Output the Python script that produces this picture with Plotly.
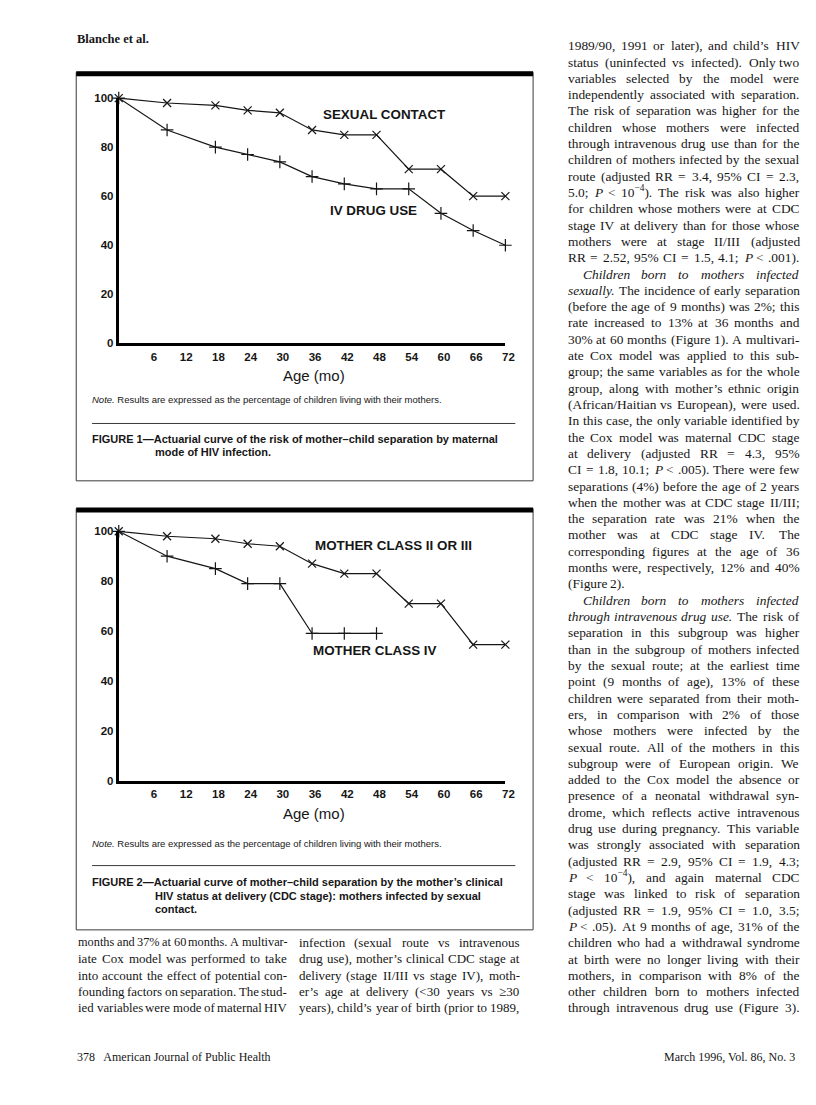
import re
import plotly.graph_objects as go

# page size, and the 8px body margin the saved html page adds round the figure
PAGE_W, PAGE_H = 816, 1105
OFF = 8
W, H = PAGE_W - OFF, PAGE_H - OFF

# ---- data ----
FIG1_MONTHS = [0, 9, 18, 24, 30, 36, 42, 48, 54, 60, 66, 72]
FIG1_SEXUAL = [100, 98, 97, 95, 94, 87, 85, 85, 71, 71, 60, 60]
FIG1_IVDRUG = [100, 87, 80, 77, 74, 68, 65, 63, 63, 53, 46, 40]

FIG2_MONTHS_23 = [0, 9, 18, 24, 30, 36, 42, 48, 54, 60, 66, 72]
FIG2_CLASS_23 = [100, 98, 97, 95, 94, 87, 83, 83, 71, 71, 54.5, 54.5]
FIG2_MONTHS_4 = [0, 9, 18, 24, 30, 36, 42, 48]
FIG2_CLASS_4 = [100, 90, 85, 79, 79, 59, 59, 59]

AGE_TICKS = [6, 12, 18, 24, 30, 36, 42, 48, 54, 60, 66, 72]
PCT_TICKS = [0, 20, 40, 60, 80, 100]

NOTE = "<i>Note.</i> Results are expressed as the percentage of children living with their mothers."
CAPTION1 = ["FIGURE 1—Actuarial curve of the risk of mother–child separation by maternal",
            "mode of HIV infection."]
CAPTION2 = ["FIGURE 2—Actuarial curve of mother–child separation by the mother’s clinical",
            "HIV status at delivery (CDC stage): mothers infected by sexual",
            "contact."]

RIGHT_COL = [
    "1989/90, 1991 or later), and child’s HIV",
    "status (uninfected vs infected). Only two",
    "variables selected by the model were",
    "independently associated with separation.",
    "The risk of separation was higher for the",
    "children whose mothers were infected",
    "through intravenous drug use than for the",
    "children of mothers infected by the sexual",
    "route (adjusted RR = 3.4, 95% CI = 2.3,",
    "5.0; <i>P</i> &lt; 10<sup>−4</sup>). The risk was also higher",
    "for children whose mothers were at CDC",
    "stage IV at delivery than for those whose",
    "mothers were at stage II/III (adjusted",
    "RR = 2.52, 95% CI = 1.5, 4.1; <i>P</i> &lt; .001).",
    "<i>Children born to mothers infected</i>",
    "<i>sexually.</i> The incidence of early separation",
    "(before the age of 9 months) was 2%; this",
    "rate increased to 13% at 36 months and",
    "30% at 60 months (Figure 1). A multivari-",
    "ate Cox model was applied to this sub-",
    "group; the same variables as for the whole",
    "group, along with mother’s ethnic origin",
    "(African/Haitian vs European), were used.",
    "In this case, the only variable identified by",
    "the Cox model was maternal CDC stage",
    "at delivery (adjusted RR = 4.3, 95%",
    "CI = 1.8, 10.1; <i>P</i> &lt; .005). There were few",
    "separations (4%) before the age of 2 years",
    "when the mother was at CDC stage II/III;",
    "the separation rate was 21% when the",
    "mother was at CDC stage IV. The",
    "corresponding figures at the age of 36",
    "months were, respectively, 12% and 40%",
    "(Figure 2).",
    "<i>Children born to mothers infected</i>",
    "<i>through intravenous drug use.</i> The risk of",
    "separation in this subgroup was higher",
    "than in the subgroup of mothers infected",
    "by the sexual route; at the earliest time",
    "point (9 months of age), 13% of these",
    "children were separated from their moth-",
    "ers, in comparison with 2% of those",
    "whose mothers were infected by the",
    "sexual route. All of the mothers in this",
    "subgroup were of European origin. We",
    "added to the Cox model the absence or",
    "presence of a neonatal withdrawal syn-",
    "drome, which reflects active intravenous",
    "drug use during pregnancy. This variable",
    "was strongly associated with separation",
    "(adjusted RR = 2.9, 95% CI = 1.9, 4.3;",
    "<i>P</i> &lt; 10<sup>−4</sup>), and again maternal CDC",
    "stage was linked to risk of separation",
    "(adjusted RR = 1.9, 95% CI = 1.0, 3.5;",
    "<i>P</i> &lt; .05). At 9 months of age, 31% of the",
    "children who had a withdrawal syndrome",
    "at birth were no longer living with their",
    "mothers, in comparison with 8% of the",
    "other children born to mothers infected",
    "through intravenous drug use (Figure 3).",
]
RIGHT_INDENT = {14, 34}
RIGHT_RAGGED = {33}

LEFT_COL = [
    "months and 37% at 60 months. A multivar-",
    "iate Cox model was performed to take",
    "into account the effect of potential con-",
    "founding factors on separation. The stud-",
    "ied variables were mode of maternal HIV",
]
MID_COL = [
    "infection (sexual route vs intravenous",
    "drug use), mother’s clinical CDC stage at",
    "delivery (stage II/III vs stage IV), moth-",
    "er’s age at delivery (&lt;30 years vs ≥30",
    "years), child’s year of birth (prior to 1989,",
]

# ---- styles ----
INK = '#161616'
SANS = 'Liberation Sans, Arial, sans-serif'
SERIF = 'Liberation Serif, Times New Roman, serif'
LINE0, PITCH = 40, 16.49

# Times-Roman advance widths (1/1000 em), used to spread justified words
_TW = {' ': 250, ',': 250, '.': 250, ';': 278, ':': 278, '(': 333, ')': 333, '-': 333,
       '/': 278, '%': 833, '=': 564, '<': 564, '’': 333, '−': 564, '≥': 549,
       'A': 722, 'C': 667, 'D': 722, 'E': 611, 'F': 556, 'H': 722, 'I': 333, 'P': 556,
       'R': 667, 'T': 611, 'V': 722, 'W': 944,
       'a': 444, 'b': 500, 'c': 444, 'd': 500, 'e': 444, 'f': 333, 'g': 500, 'h': 500,
       'i': 278, 'j': 278, 'k': 500, 'l': 278, 'm': 778, 'n': 500, 'o': 500, 'p': 500,
       'q': 500, 'r': 333, 's': 389, 't': 278, 'u': 500, 'v': 500, 'w': 722, 'x': 500,
       'y': 500, 'z': 444}


def _plain_width(s):
    s = s.replace('&lt;', '<')
    return sum(_TW.get(ch, 500) for ch in s) / 1000.0


def text_em(word):
    total = 0.0
    for part in re.split(r'(<sup>.*?</sup>)', word):
        if part.startswith('<sup>'):
            total += 0.7 * _plain_width(re.sub(r'</?sup>', '', part))
        else:
            total += _plain_width(re.sub(r'</?i>', '', part))
    return total


def split_words(line):
    out, ital = [], False
    for w in line.split(' '):
        if not w:
            continue
        start = ital
        for m in re.finditer(r'</?i>', w):
            ital = m.group() == '<i>'
        if start and not w.startswith('<i>'):
            w = '<i>' + w
        if ital and not w.endswith('</i>'):
            w = w + '</i>'
        out.append(w)
    return out


annotations = []
shapes = []


# page pixel -> paper fraction
def px(x):
    return (x - OFF) / W


def py(y):
    return 1 - (y - OFF) / H


def add_text(text, x, y, font, xanchor='left'):
    annotations.append(dict(text=text, x=px(x), y=py(y), xref='paper', yref='paper',
                            xanchor=xanchor, yanchor='middle', showarrow=False, font=font))


def add_body_line(line, x0, x1, y, size, justify=True, indent=0):
    words = split_words(line)
    ems = [text_em(w) for w in words]
    avail = x1 - x0 - indent
    # shrink a line that can not fit its column with normal-ish spacing
    need = sum(ems) + 0.22 * (len(words) - 1)
    if need * size > avail:
        size = avail / need
    widths = [e * size for e in ems]
    gap = 0.25 * size
    if justify and len(words) > 1:
        gap = (avail - sum(widths)) / (len(words) - 1)
    font = dict(family=SERIF, size=size, color=INK)
    x = x0 + indent
    for w, wd in zip(words, widths):
        annotations.append(dict(text=w, x=px(x), y=py(y + 0.72 * size), xref='paper',
                                yref='paper', xanchor='left', yanchor='bottom',
                                showarrow=False, font=font))
        x += wd + gap


def add_box(top, bottom, left=77, right=539):
    shapes.append(dict(type='rect', xref='paper', yref='paper', x0=px(left), x1=px(right),
                       y0=py(bottom), y1=py(top), line=dict(color='#3a3a3a', width=1)))
    shapes.append(dict(type='rect', xref='paper', yref='paper', x0=px(left), x1=px(right),
                       y0=py(top + 4), y1=py(top - 1), fillcolor='black', line=dict(width=0)))


def add_rule(y, x0=93, x1=521):
    shapes.append(dict(type='line', xref='paper', yref='paper', x0=px(x0), x1=px(x1),
                       y0=py(y), y1=py(y), line=dict(color='#3a3a3a', width=1)))


fig = go.Figure()

line_style = dict(color=INK, width=1.2)
x_marker = dict(symbol='x-thin', size=8, line=dict(color=INK, width=1.2))
plus_marker = dict(symbol='cross-thin', size=9, line=dict(color=INK, width=1.2))
fig.add_trace(go.Scatter(x=FIG1_MONTHS, y=FIG1_SEXUAL, mode='lines+markers', line=line_style,
                         marker=x_marker, cliponaxis=False, xaxis='x', yaxis='y'))
fig.add_trace(go.Scatter(x=FIG1_MONTHS, y=FIG1_IVDRUG, mode='lines+markers', line=line_style,
                         marker=plus_marker, cliponaxis=False, xaxis='x', yaxis='y'))
fig.add_trace(go.Scatter(x=FIG2_MONTHS_23, y=FIG2_CLASS_23, mode='lines+markers', line=line_style,
                         marker=x_marker, cliponaxis=False, xaxis='x2', yaxis='y2'))
fig.add_trace(go.Scatter(x=FIG2_MONTHS_4, y=FIG2_CLASS_4, mode='lines+markers', line=line_style,
                         marker=plus_marker, cliponaxis=False, xaxis='x2', yaxis='y2'))

tick_font = dict(family=SANS, size=11.5, color=INK, weight='bold')
label_font = dict(family=SANS, size=13.4, color=INK, weight='bold')


def x_axis(anchor):
    return dict(domain=[px(120), px(511)], range=[0, 72], anchor=anchor, tickvals=AGE_TICKS,
                showline=True, linewidth=3, linecolor='black', showgrid=False, zeroline=False,
                ticks='', tickfont=tick_font, ticklabelstandoff=1, ticklabelshift=3,
                fixedrange=True)


def y_axis(anchor, top, bottom):
    return dict(domain=[py(bottom), py(top)], range=[0, 100], anchor=anchor, tickvals=PCT_TICKS,
                showline=True, linewidth=3, linecolor='black', showgrid=False, zeroline=False,
                ticks='', tickfont=tick_font, ticklabelstandoff=0, fixedrange=True)


cap_font = dict(family=SANS, size=11, color=INK, weight='bold')
note_font = dict(family=SANS, size=9.5, color=INK)
age_font = dict(family=SANS, size=15, color=INK)

# ---- figure 1 ----
add_box(67, 480)
for text, xm, yv in [('SEXUAL CONTACT', 49.4, 93.5), ('IV DRUG USE', 47.4, 54)]:
    annotations.append(dict(text=text, x=xm, y=yv, xref='x', yref='y', showarrow=False,
                            xanchor='center', yanchor='middle', font=label_font))
add_text('Age (mo)', 317, 373, age_font, xanchor='center')
add_text(NOTE, 91, 398, note_font)
add_rule(422)
add_text(CAPTION1[0], 91, 438, cap_font)
add_text(CAPTION1[1], 155, 451, cap_font)

# ---- figure 2 ----
add_box(508, 934)
for text, xm, yv in [('MOTHER CLASS II OR III', 51.2, 94.4), ('MOTHER CLASS IV', 47.8, 52.1)]:
    annotations.append(dict(text=text, x=xm, y=yv, xref='x2', yref='y2', showarrow=False,
                            xanchor='center', yanchor='middle', font=label_font))
add_text('Age (mo)', 317, 816, age_font, xanchor='center')
add_text(NOTE, 91, 847, note_font)
add_rule(869)
add_text(CAPTION2[0], 91, 886, cap_font)
add_text(CAPTION2[1], 155, 899.5, cap_font)
add_text(CAPTION2[2], 155, 913, cap_font)

# ---- running text ----
for i, line in enumerate(RIGHT_COL):
    add_body_line(line, 572, 806, LINE0 + i * PITCH, 13.4, justify=i not in RIGHT_RAGGED,
                  indent=15 if i in RIGHT_INDENT else 0)
for i, line in enumerate(LEFT_COL):
    add_body_line(line, 77, 288, LINE0 + (55 + i) * PITCH, 13.0)
for i, line in enumerate(MID_COL):
    add_body_line(line, 300, 523, LINE0 + (55 + i) * PITCH, 13.0)

add_text('<b>Blanche et al.</b>', 76, 33, dict(family=SERIF, size=12.5, color=INK))
add_text('378   American Journal of Public Health', 76, 1063, dict(family=SERIF, size=12, color=INK))
add_text('March 1996, Vol. 86, No. 3', 806, 1063, dict(family=SERIF, size=12, color=INK),
         xanchor='right')

fig.update_layout(
    width=W, height=H, autosize=False,
    margin=dict(l=0, r=0, t=0, b=0),
    paper_bgcolor='white', plot_bgcolor='white',
    showlegend=False,
    xaxis=x_axis('y'),
    yaxis=y_axis('x', 93, 341),
    xaxis2=x_axis('y2'),
    yaxis2=y_axis('x2', 531, 783),
    annotations=annotations,
    shapes=shapes,
)

fig.write_html("out.html")
